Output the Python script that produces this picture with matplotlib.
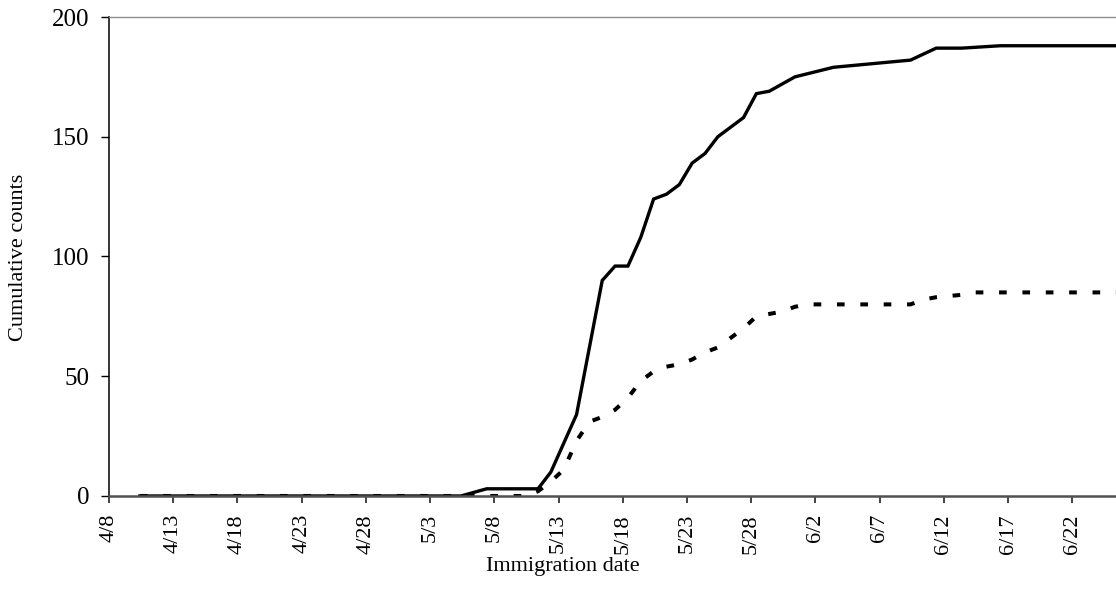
import matplotlib
matplotlib.use('Agg')
import matplotlib.pyplot as plt
import pandas as pd
import numpy as np

# cumulative counts (month/day)
solid_dates = ['4/10', '5/5', '5/7', '5/11', '5/12', '5/14', '5/15', '5/16', '5/17', '5/18',
               '5/19', '5/20', '5/21', '5/22', '5/23', '5/24', '5/25', '5/26', '5/27', '5/28',
               '5/29', '5/31', '6/3', '6/9', '6/11', '6/13', '6/16', '6/25']
solid_counts = [0, 0, 3, 3, 10, 34, 62, 90, 96, 96,
                108, 124, 126, 130, 139, 143, 150, 154, 158, 168,
                169, 175, 179, 182, 187, 187, 188, 188]

dotted_dates = ['4/10', '5/10', '5/11', '5/12', '5/13', '5/14', '5/15', '5/16', '5/17', '5/18',
                '5/19', '5/20', '5/21', '5/22', '5/23', '5/24', '5/25', '5/26', '5/27', '5/28',
                '5/29', '5/30', '5/31', '6/1', '6/9', '6/10', '6/11', '6/13', '6/14', '6/25']
dotted_counts = [0, 0, 2, 6, 11, 23, 31, 33, 36, 41,
                 48, 52, 54, 55, 57, 60, 62, 66, 70, 75,
                 76, 77, 79, 80, 80, 82, 83, 84, 85, 85]

tick_labels = ['4/8', '4/13', '4/18', '4/23', '4/28', '5/3', '5/8', '5/13', '5/18',
               '5/23', '5/28', '6/2', '6/7', '6/12', '6/17', '6/22']
y_ticks = [0, 50, 100, 150, 200]

start = pd.Timestamp('2000-04-08')


def day_index(labels):
    d = pd.to_datetime(['2000/' + s for s in labels], format='%Y/%m/%d')
    return np.asarray((d - start).days, dtype=float)


plt.rcParams['font.family'] = ['Liberation Serif', 'DejaVu Serif']

fig = plt.figure(figsize=(11.16, 6.05), dpi=100)
ax = fig.add_axes([0.0977, 0.1802, 0.9023, 0.7917])

# excel-style: points sit between the tick marks
ax.plot(day_index(solid_dates) + 0.4, solid_counts, color='black', lw=2.4,
        solid_joinstyle='miter')
ax.plot(day_index(dotted_dates) + 0.4, dotted_counts, color='black', lw=2.9,
        linestyle=(0, (1.9, 3.9)), dash_capstyle='butt')

ax.set_xlim(0, 78.4)
ax.set_ylim(0, 200)
ax.set_xticks(day_index(tick_labels))
ax.set_xticklabels(tick_labels, rotation=90, fontsize=16)
ax.set_yticks(y_ticks)
ax.set_yticklabels([str(v) for v in y_ticks], fontsize=18)
ax.tick_params(axis='y', direction='out', length=6, width=1, pad=8, color='black')
ax.tick_params(axis='x', direction='out', length=5, width=1.2, pad=8, color='#222222')

ax.spines['right'].set_visible(False)
ax.spines['top'].set_color('#8c8c8c')
ax.spines['top'].set_linewidth(1.0)
ax.spines['left'].set_color('black')
ax.spines['left'].set_linewidth(1.1)
ax.spines['bottom'].set_color('#505050')
ax.spines['bottom'].set_linewidth(1.8)

fig.text(19 / 1116, 1 - 257 / 605, 'Cumulative counts', rotation=90, fontsize=16,
         ha='center', va='center')
fig.text(563 / 1116, 1 - 567 / 605, 'Immigration date', fontsize=16,
         ha='center', va='center')

fig.savefig('out.png', dpi=100)
